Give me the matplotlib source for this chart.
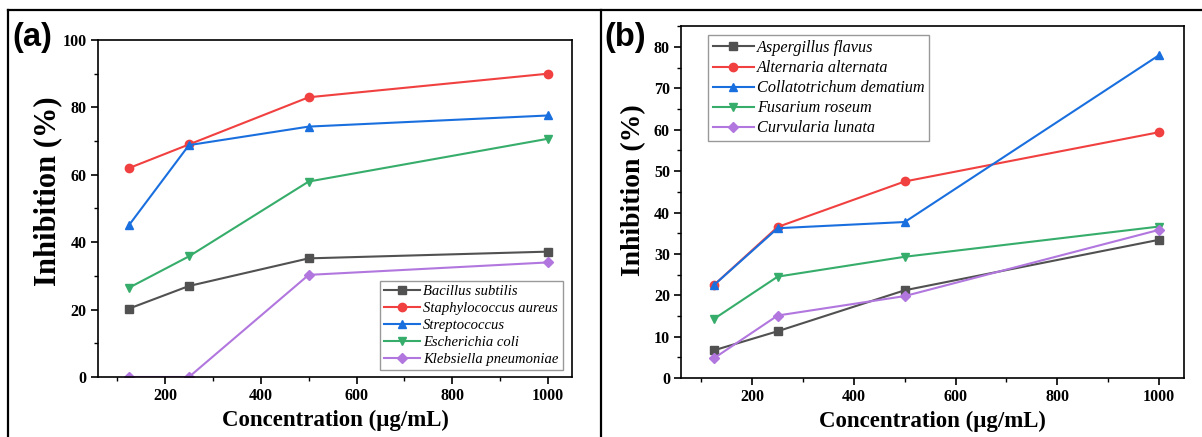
import matplotlib
matplotlib.use('Agg')
import matplotlib.pyplot as plt
from matplotlib.lines import Line2D
from matplotlib.ticker import MultipleLocator

conc = [125, 250, 500, 1000]

# panel (a) bacteria
bact_names = ['Bacillus subtilis', 'Staphylococcus aureus', 'Streptococcus',
              'Escherichia coli', 'Klebsiella pneumoniae']
bacillus = [20.3, 27.0, 35.2, 37.2]
staph = [62.0, 69.0, 83.0, 90.0]
strep = [45.1, 68.8, 74.3, 77.6]
ecoli = [26.5, 35.8, 58.0, 70.7]
klebs = [0.0, 0.0, 30.3, 34.0]

# panel (b) fungi
fungi_names = ['Aspergillus flavus', 'Alternaria alternata', 'Collatotrichum dematium',
               'Fusarium roseum', 'Curvularia lunata']
aspergillus = [6.7, 11.3, 21.2, 33.4]
alternaria = [22.5, 36.5, 47.5, 59.4]
collato = [22.5, 36.2, 37.7, 78.0]
fusarium = [14.3, 24.5, 29.3, 36.6]
curvularia = [4.8, 15.1, 19.8, 35.8]

colors = ['#515151', '#F14040', '#1A6FDF', '#37AD6B', '#B177DE']
markers = ['s', 'o', '^', 'v', 'D']

plt.rcParams['font.family'] = ['Liberation Serif', 'DejaVu Serif']

fig = plt.figure(figsize=(12.02, 4.37), dpi=100)
ax1 = fig.add_axes([0.0815, 0.1373, 0.3944, 0.7712])
ax2 = fig.add_axes([0.5666, 0.135, 0.4187, 0.8048])


def draw(ax, series, names, ylim, ymajor, ylab_size, ylab_xy, leg_size, leg_kw):
    for vals, name, c, m in zip(series, names, colors, markers):
        ms = 5 if m == 'D' else 6
        ax.plot(conc, vals, color=c, marker=m, markersize=ms, lw=1.5, label=name)
    ax.set_xlim(60, 1050)
    ax.set_ylim(*ylim)
    ax.xaxis.set_major_locator(MultipleLocator(200))
    ax.xaxis.set_minor_locator(MultipleLocator(100))
    ax.yaxis.set_major_locator(MultipleLocator(ymajor))
    ax.yaxis.set_minor_locator(MultipleLocator(ymajor / 2))
    ax.tick_params(which='major', direction='out', length=5, width=1.2, labelsize=11.5, pad=3)
    ax.tick_params(which='minor', direction='out', length=3, width=1.0)
    for lab in ax.get_xticklabels() + ax.get_yticklabels():
        lab.set_fontweight('bold')
    for sp in ax.spines.values():
        sp.set_linewidth(1.2)
    ax.set_xlabel('Concentration (μg/mL)', fontsize=16.5, fontweight='bold', labelpad=4)
    ax.set_ylabel('Inhibition (%)', fontsize=ylab_size, fontweight='bold')
    ax.yaxis.set_label_coords(*ylab_xy)
    leg = ax.legend(prop={'style': 'italic', 'size': leg_size}, frameon=True,
                    fancybox=False, edgecolor='#808080', handlelength=2.5,
                    handletextpad=0.2, borderpad=0.3, labelspacing=0.25,
                    borderaxespad=0, **leg_kw)
    leg.get_frame().set_linewidth(1.0)


draw(ax1, [bacillus, staph, strep, ecoli, klebs], bact_names, (0, 100), 20, 22,
     (-0.076, 0.552), 10.5,
     dict(loc='lower right', bbox_to_anchor=(1 - 9 / 474, 7 / 337)))
draw(ax2, [aspergillus, alternaria, collato, fusarium, curvularia], fungi_names,
     (0, 85), 10, 20, (-0.070, 0.534), 11.7,
     dict(loc='upper left', bbox_to_anchor=(27 / 503, 1 - 9 / 352)))

fig.text(0.01, 0.915, '(a)', fontsize=23.5, fontweight='bold', family='Liberation Sans', va='center')
fig.text(0.503, 0.915, '(b)', fontsize=23.5, fontweight='bold', family='Liberation Sans', va='center')

# outer frame lines
y_top = 1 - 10.3 / 437
fig.add_artist(Line2D([8.3 / 1202, 1.0], [y_top, y_top], color='black', lw=1.6))
fig.add_artist(Line2D([8.3 / 1202, 8.3 / 1202], [0, y_top], color='black', lw=1.6))
fig.add_artist(Line2D([601 / 1202, 601 / 1202], [0, y_top], color='black', lw=1.6))

fig.savefig('out.png', dpi=100)
